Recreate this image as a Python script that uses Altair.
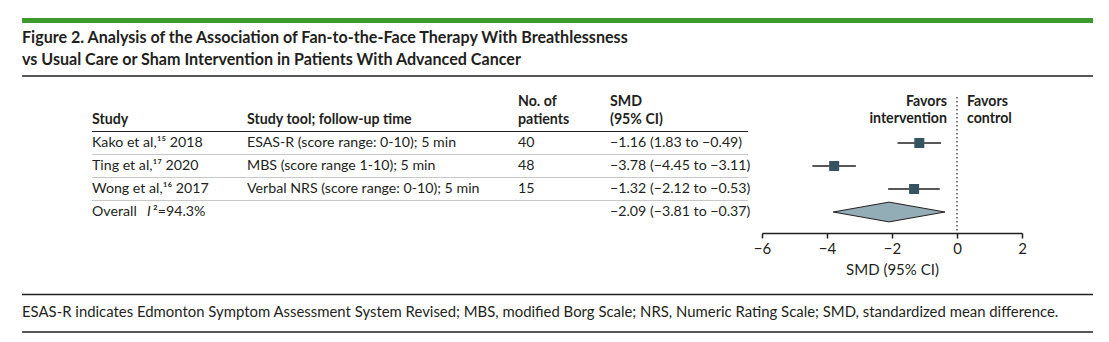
import altair as alt
import pandas as pd

# ---------------- data ----------------
studies = ["Kako et al,\u00b9\u2075 2018", "Ting et al,\u00b9\u2077 2020", "Wong et al,\u00b9\u2076 2017"]
tools = ["ESAS-R (score range: 0-10); 5 min", "MBS (score range 1-10); 5 min",
         "Verbal NRS (score range: 0-10); 5 min"]
patients = ["40", "48", "15"]
smd = [-1.16, -3.78, -1.32]
ci_low = [-1.83, -4.45, -2.12]
ci_high = [-0.49, -3.11, -0.53]
smd_labels = ["\u22121.16 (1.83 to \u22120.49)", "\u22123.78 (\u22124.45 to \u22123.11)",
              "\u22121.32 (\u22122.12 to \u22120.53)"]
overall_smd = -2.09
overall_low = -3.81
overall_high = -0.37
overall_label = "\u22122.09 (\u22123.81 to \u22120.37)"
overall_i2 = "\u00b2=94.3%"
x_ticks = [-6, -4, -2, 0, 2]

title_lines = ["Figure 2. Analysis of the Association of Fan-to-the-Face Therapy With Breathlessness",
               "vs Usual Care or Sham Intervention in Patients With Advanced Cancer"]
footnote = ("ESAS-R indicates Edmonton Symptom Assessment System Revised; MBS, modified Borg Scale; "
            "NRS, Numeric Rating Scale; SMD, standardized mean difference.")

rows = pd.DataFrame({"row": [0, 1, 2], "study": studies, "tool": tools, "n": patients,
                     "smd": smd, "lo": ci_low, "hi": ci_high, "label": smd_labels})
overall = pd.DataFrame({"row": [3], "label": [overall_label], "i2": [overall_i2]})
half_h = 0.43
diamond = pd.DataFrame({"x": [overall_low, overall_smd, overall_high],
                        "y": [3, 3 - half_h, 3], "y2": [3, 3 + half_h, 3]})

FONT = "Lato"
INK = "#231f20"
SQ = "#36545f"
TS = 14.2

xs = alt.Scale(domain=[-6, 2], range=[762, 1022], nice=False, zero=False)
ys = alt.Scale(domain=[0, 3], range=[143, 212], nice=False, zero=False)
xaxis = alt.Axis(values=x_ticks, format="d", domainColor=INK, domainWidth=1.5,
                 tickColor=INK, tickWidth=1.5, tickSize=5, labelFont=FONT,
                 labelFontSize=15, labelColor=INK, labelPadding=3, grid=False,
                 titleFont=FONT, titleFontSize=15, titleFontWeight="normal",
                 titleColor=INK, titlePadding=6, labelFlush=False)

base = alt.Chart(rows)


def hline(x1, x2, y, color, width):
    return alt.Chart(pd.DataFrame({"a": [0]})).mark_rule(color=color, strokeWidth=width).encode(
        x=alt.value(x1), x2=alt.value(x2), y=alt.value(y))


def ptext(txt, x, y, size=TS, weight="normal", align="left", style="normal"):
    return alt.Chart(pd.DataFrame({"t": [txt]})).mark_text(
        font=FONT, fontSize=size, fontWeight=weight, align=align, baseline="middle",
        color=INK, fontStyle=style).encode(x=alt.value(x), y=alt.value(y), text="t:N")


layers = []
# decorations
layers.append(hline(22, 1093, 20.5, "#3f9a2e", 5))
layers.append(hline(22, 1093, 76, INK, 1.5))
layers.append(hline(92, 748, 131.5, INK, 1.2))
layers.append(hline(22, 1093, 294.5, INK, 1.5))
layers.append(hline(22, 1093, 332, INK, 1.5))
# row separators
sep = pd.DataFrame({"r": [0.5, 1.5, 2.5]})
layers.append(alt.Chart(sep).mark_rule(color="#c8c8c8", strokeWidth=1).encode(
    x=alt.value(92), x2=alt.value(748), y=alt.Y("r:Q", scale=ys, axis=None)))

# title & footnote
layers.append(ptext(title_lines[0], 22, 38, size=16.1, weight="bold"))
layers.append(ptext(title_lines[1], 22, 60, size=16.1, weight="bold"))
layers.append(ptext(footnote, 22, 313, size=14.9))

# headers
layers.append(ptext("Study", 92, 120, weight="bold"))
layers.append(ptext("Study tool; follow-up time", 247, 120, weight="bold"))
layers.append(ptext("No. of", 518, 102, weight="bold"))
layers.append(ptext("patients", 518, 120, weight="bold"))
layers.append(ptext("SMD", 610, 102, weight="bold"))
layers.append(ptext("(95% CI)", 610, 120, weight="bold"))
layers.append(ptext("Favors", 947, 102, weight="bold", align="right"))
layers.append(ptext("intervention", 947, 119, weight="bold", align="right"))
layers.append(ptext("Favors", 967, 102, weight="bold"))
layers.append(ptext("control", 967, 119, weight="bold"))

# table columns
for field, xpos in [("study", 92), ("tool", 247), ("n", 518), ("label", 610)]:
    layers.append(base.mark_text(font=FONT, fontSize=TS, align="left", baseline="middle", color=INK)
                  .encode(x=alt.value(xpos), y=alt.Y("row:Q", scale=ys, axis=None), text=f"{field}:N"))

ov = alt.Chart(overall)
layers.append(ov.mark_text(font=FONT, fontSize=TS, align="left", baseline="middle", color=INK).encode(
    x=alt.value(92), y=alt.Y("row:Q", scale=ys, axis=None), text=alt.value("Overall")))
layers.append(ov.mark_text(font=FONT, fontSize=TS, align="left", baseline="middle", color=INK,
                           fontStyle="italic").encode(
    x=alt.value(147), y=alt.Y("row:Q", scale=ys, axis=None), text=alt.value("I")))
layers.append(ov.mark_text(font=FONT, fontSize=TS, align="left", baseline="middle", color=INK).encode(
    x=alt.value(153), y=alt.Y("row:Q", scale=ys, axis=None), text="i2:N"))
layers.append(ov.mark_text(font=FONT, fontSize=TS, align="left", baseline="middle", color=INK).encode(
    x=alt.value(610), y=alt.Y("row:Q", scale=ys, axis=None), text="label:N"))

# zero reference line
layers.append(alt.Chart(pd.DataFrame({"z": [0]})).mark_rule(
    color=INK, strokeDash=[1.5, 2.5], strokeWidth=1.2).encode(
    x=alt.X("z:Q", scale=xs, axis=xaxis, title="SMD (95% CI)"), y=alt.value(97), y2=alt.value(233)))

# CI lines
layers.append(base.mark_rule(color=INK, strokeWidth=1.5).encode(
    x=alt.X("lo:Q", scale=xs, axis=xaxis, title="SMD (95% CI)"),
    x2="hi:Q", y=alt.Y("row:Q", scale=ys, axis=None)))
# squares
layers.append(base.mark_point(shape="square", filled=True, size=100, color=SQ, opacity=1).encode(
    x=alt.X("smd:Q", scale=xs, axis=xaxis, title="SMD (95% CI)"),
    y=alt.Y("row:Q", scale=ys, axis=None)))
# diamond
layers.append(alt.Chart(diamond).mark_area(color="#93adb6", stroke=INK, strokeWidth=1,
                                           opacity=1, fillOpacity=1).encode(
    x=alt.X("x:Q", scale=xs, axis=xaxis, title="SMD (95% CI)"),
    y=alt.Y("y:Q", scale=ys, axis=None), y2="y2:Q"))

chart = alt.layer(*layers).properties(
    width=1109, height=233,
    padding={"left": 0, "top": 0, "right": 0, "bottom": 109},
    autosize=alt.AutoSizeParams(type="none"),
    background="white",
).configure_view(stroke=None)

chart.save("out.html", embed_options={"renderer": "svg", "actions": False})
